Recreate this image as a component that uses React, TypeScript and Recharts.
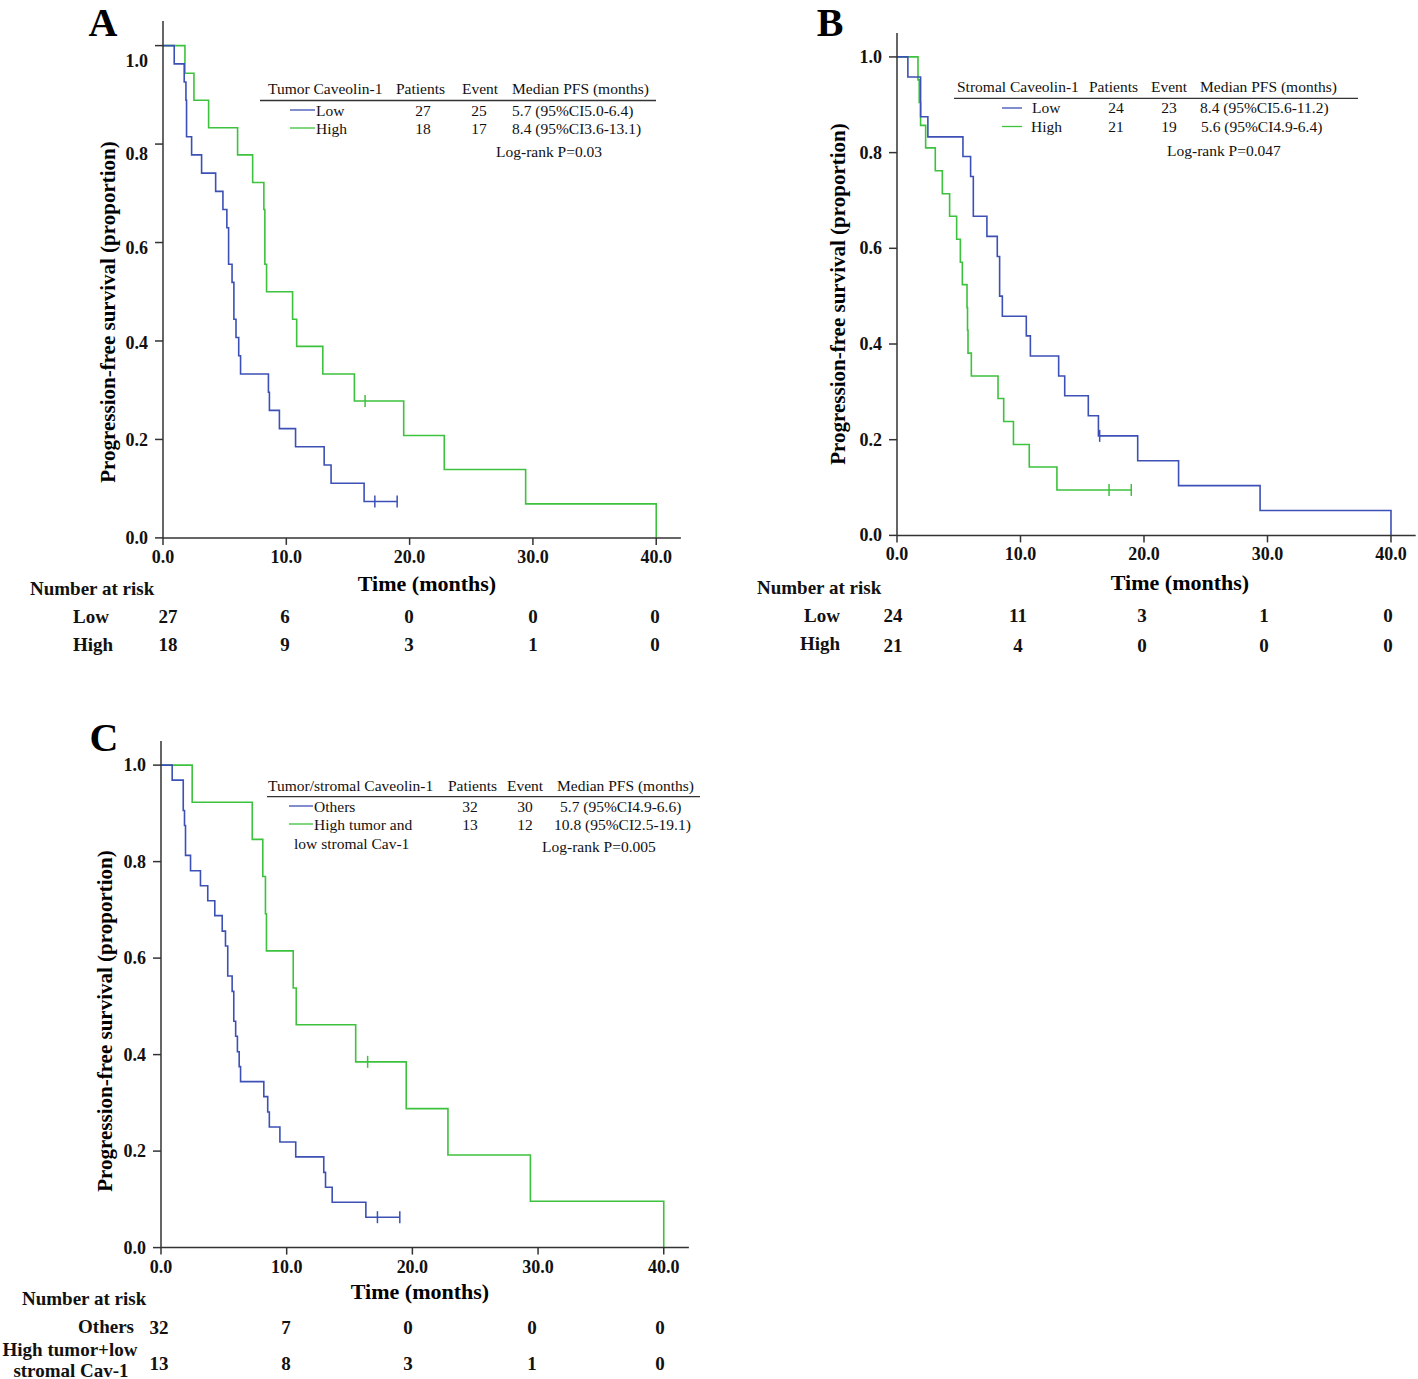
import React from "react"
import { LineChart, Line, XAxis, YAxis } from "recharts"

// survival steps (time in months, proportion)
const aLowTimes = [0, 0.91, 1.72, 1.86, 1.91, 2.32, 3.13, 4.27, 4.86, 5.18, 5.32, 5.6, 5.75, 5.92, 6.14, 6.29, 8.55, 8.63, 9.44, 10.75, 13.07, 13.63, 16.31]
const aLowSurv = [1, 0.963, 0.926, 0.889, 0.815, 0.778, 0.741, 0.704, 0.667, 0.63, 0.556, 0.519, 0.444, 0.407, 0.37, 0.333, 0.296, 0.259, 0.222, 0.185, 0.148, 0.111, 0.074]
const aLowCensor = [17.18, 18.99]

const aHighTimes = [0, 1.78, 2.51, 3.7, 6.05, 7.27, 8.18, 8.26, 8.4, 10.51, 10.84, 12.96, 15.52, 19.52, 22.81, 29.41, 40]
const aHighSurv = [1, 0.944, 0.889, 0.833, 0.778, 0.722, 0.667, 0.556, 0.5, 0.444, 0.389, 0.333, 0.278, 0.208, 0.139, 0.069, 0]
const aHighCensor = [16.39]

const bLowTimes = [0, 0.88, 1.91, 2.5, 5.34, 5.96, 6.18, 7.28, 8.12, 8.31, 8.53, 10.47, 10.8, 13.09, 13.58, 15.49, 16.31, 19.49, 22.8, 29.4, 40]
const bLowSurv = [1, 0.958, 0.875, 0.833, 0.792, 0.75, 0.667, 0.625, 0.583, 0.5, 0.458, 0.417, 0.375, 0.333, 0.292, 0.25, 0.208, 0.156, 0.104, 0.052, 0]
const bLowCensor = [16.41]

const bHighTimes = [0, 1.7, 1.8, 1.91, 2.32, 3.1, 3.67, 4.26, 4.83, 5.13, 5.29, 5.67, 5.71, 5.75, 6.02, 8.18, 8.64, 9.43, 10.71, 12.95]
const bHighSurv = [1, 0.952, 0.905, 0.857, 0.81, 0.762, 0.714, 0.667, 0.619, 0.571, 0.524, 0.476, 0.429, 0.381, 0.333, 0.286, 0.238, 0.19, 0.143, 0.095]
const bHighCensor = [17.17, 18.97]

const cOthersTimes = [0, 0.89, 1.77, 1.87, 1.95, 2.35, 3.14, 3.72, 4.28, 4.87, 5.13, 5.31, 5.66, 5.79, 5.94, 6.08, 6.22, 6.33, 8.18, 8.49, 8.62, 9.46, 10.72, 12.95, 13.09, 13.62, 16.3]
const cOthersSurv = [1, 0.969, 0.906, 0.875, 0.813, 0.781, 0.75, 0.719, 0.688, 0.656, 0.625, 0.563, 0.531, 0.469, 0.438, 0.406, 0.375, 0.344, 0.313, 0.281, 0.25, 0.219, 0.188, 0.156, 0.125, 0.094, 0.063]
const cOthersCensor = [17.22, 19.0]

const cHtlsTimes = [0, 2.48, 7.26, 8.1, 8.31, 8.39, 10.52, 10.76, 15.49, 19.51, 22.83, 29.39, 40]
const cHtlsSurv = [1, 0.923, 0.846, 0.769, 0.692, 0.615, 0.538, 0.462, 0.385, 0.288, 0.192, 0.096, 0]
const cHtlsCensor = [16.44]

const xTicks = [0, 10, 20, 30, 40]
const yTicks = [0, 0.2, 0.4, 0.6, 0.8, 1.0]

// number at risk at 0, 10, 20, 30, 40 months
const aRiskLow = [27, 6, 0, 0, 0]
const aRiskHigh = [18, 9, 3, 1, 0]
const bRiskLow = [24, 11, 3, 1, 0]
const bRiskHigh = [21, 4, 0, 0, 0]
const cRiskOthers = [32, 7, 0, 0, 0]
const cRiskHtls = [13, 8, 3, 1, 0]

const BLUE = "#3c50b6"
const GREEN = "#3cc23c"
const AXIS = "#333"
const SERIF = "'Liberation Serif', 'Times New Roman', serif"

type Pt = { t: number; s: number; c?: boolean }

// merge step points with censor marks (censor sits on the current step)
function kmPoints(times: number[], surv: number[], censor: number[]): Pt[] {
  const pts: Pt[] = times.map((t, i) => ({ t, s: surv[i] }))
  censor.forEach((c) => {
    let s = surv[0]
    times.forEach((t, i) => {
      if (t <= c) s = surv[i]
    })
    pts.push({ t: c, s, c: true })
  })
  return pts.sort((p, q) => p.t - q.t)
}

type Rect = { left: number; top: number; width: number; height: number }

function Panel({ rect, series, yShift }: {
  rect: Rect
  series: { pts: Pt[]; color: string }[]
  yShift?: (v: number) => number
}) {
  const W = rect.width + 80
  const H = rect.height + 50
  const censorDot = (color: string) => (props: any) => {
    const { cx, cy, payload, index } = props
    if (!payload || !payload.c) return <g key={"n" + index} />
    return <line key={"c" + index} x1={cx} x2={cx} y1={cy - 6} y2={cy + 6} stroke={color} strokeWidth={1.5} />
  }
  return (
    <div style={{ position: "absolute", left: rect.left - 70, top: rect.top - 10, width: W, height: H }}>
      <LineChart width={W} height={H} margin={{ top: 10, right: 10, bottom: 0, left: 20 }}>
        <XAxis
          dataKey="t"
          type="number"
          domain={[0, 42]}
          ticks={xTicks}
          interval={0}
          height={40}
          tickSize={7}
          tickMargin={2}
          stroke={AXIS}
          strokeWidth={1.5}
          tick={(p: any) => (
            <text x={p.x} y={p.y + 10} textAnchor="middle" dominantBaseline="central"
              fontFamily={SERIF} fontWeight="bold" fontSize={18} fill="#111">
              {Number(p.payload.value).toFixed(1)}
            </text>
          )}
        />
        <YAxis
          type="number"
          domain={[0, 1.05]}
          ticks={yTicks}
          interval={0}
          width={50}
          tickSize={8}
          tickMargin={7}
          stroke={AXIS}
          strokeWidth={1.5}
          tick={(p: any) => (
            <text x={p.x} y={p.y + (yShift ? yShift(p.payload.value) : 0)} textAnchor="end" dominantBaseline="central"
              fontFamily={SERIF} fontWeight="bold" fontSize={18} fill="#111">
              {Number(p.payload.value).toFixed(1)}
            </text>
          )}
        />
        {series.map((sr, i) => (
          <Line
            key={i}
            data={sr.pts}
            dataKey="s"
            type="stepAfter"
            stroke={sr.color}
            strokeWidth={1.6}
            dot={censorDot(sr.color)}
            activeDot={false}
            isAnimationActive={false}
          />
        ))}
      </LineChart>
    </div>
  )
}

const T = (props: any) => (
  <text fontFamily={SERIF} fontSize={15.5} fill="#111" dominantBaseline="central" {...props} />
)
const B = (props: any) => (
  <text fontFamily={SERIF} fontSize={19} fontWeight="bold" fill="#111" dominantBaseline="central" {...props} />
)

function RiskRow({ xs, y, values }: { xs: number[]; y: number; values: number[] }) {
  return (
    <>
      {values.map((v, i) => (
        <B key={i} x={xs[i]} y={y} textAnchor="middle">{v}</B>
      ))}
    </>
  )
}

export default function App() {
  const aX = [168, 285, 409, 533, 655]
  const bX = [893, 1018, 1142, 1264, 1388]
  const cX = [159, 286, 408, 532, 660]
  return (
    <div style={{ position: "absolute", left: 0, top: 0, width: 1418, height: 1379, overflow: "hidden", background: "#fff" }}>
      <Panel
        rect={{ left: 163.1, top: 21.1, width: 517.9, height: 516.9 }}
        yShift={(v) => 15 * v * v}
        series={[
          { pts: kmPoints(aHighTimes, aHighSurv, aHighCensor), color: GREEN },
          { pts: kmPoints(aLowTimes, aLowSurv, aLowCensor), color: BLUE },
        ]}
      />
      <Panel
        rect={{ left: 897.4, top: 33.4, width: 518.7, height: 502.4 }}
        series={[
          { pts: kmPoints(bHighTimes, bHighSurv, bHighCensor), color: GREEN },
          { pts: kmPoints(bLowTimes, bLowSurv, bLowCensor), color: BLUE },
        ]}
      />
      <Panel
        rect={{ left: 160.5, top: 740.6, width: 527.9, height: 506.6 }}
        series={[
          { pts: kmPoints(cHtlsTimes, cHtlsSurv, cHtlsCensor), color: GREEN },
          { pts: kmPoints(cOthersTimes, cOthersSurv, cOthersCensor), color: BLUE },
        ]}
      />

      <svg width={1418} height={1379} style={{ position: "absolute", left: 0, top: 0, pointerEvents: "none" }}>
        {/* panel letters */}
        <text x={103} y={22} textAnchor="middle" dominantBaseline="central" fontFamily={SERIF} fontWeight="bold" fontSize={40}>A</text>
        <text x={830} y={22} textAnchor="middle" dominantBaseline="central" fontFamily={SERIF} fontWeight="bold" fontSize={40}>B</text>
        <text x={104} y={737} textAnchor="middle" dominantBaseline="central" fontFamily={SERIF} fontWeight="bold" fontSize={40}>C</text>

        {/* axis titles */}
        <text x={427} y={583} textAnchor="middle" dominantBaseline="central" fontFamily={SERIF} fontWeight="bold" fontSize={22}>Time (months)</text>
        <text x={1180} y={582} textAnchor="middle" dominantBaseline="central" fontFamily={SERIF} fontWeight="bold" fontSize={22}>Time (months)</text>
        <text x={420} y={1291} textAnchor="middle" dominantBaseline="central" fontFamily={SERIF} fontWeight="bold" fontSize={22}>Time (months)</text>
        <text transform="translate(108,312) rotate(-90)" textAnchor="middle" dominantBaseline="central" fontFamily={SERIF} fontWeight="bold" fontSize={21}>Progression-free survival (proportion)</text>
        <text transform="translate(838,294) rotate(-90)" textAnchor="middle" dominantBaseline="central" fontFamily={SERIF} fontWeight="bold" fontSize={21}>Progression-free survival (proportion)</text>
        <text transform="translate(105,1021) rotate(-90)" textAnchor="middle" dominantBaseline="central" fontFamily={SERIF} fontWeight="bold" fontSize={21}>Progression-free survival (proportion)</text>

        {/* legend A */}
        <T x={268} y={88}>Tumor Caveolin-1</T>
        <T x={396} y={88}>Patients</T>
        <T x={462} y={88}>Event</T>
        <T x={512} y={88}>Median PFS (months)</T>
        <line x1={260} x2={656} y1={100.5} y2={100.5} stroke={AXIS} strokeWidth={1.3} />
        <line x1={290} x2={315} y1={110} y2={110} stroke={BLUE} strokeWidth={1.3} />
        <T x={316} y={110}>Low</T>
        <T x={423} y={110} textAnchor="middle">27</T>
        <T x={479} y={110} textAnchor="middle">25</T>
        <T x={512} y={110}>5.7 (95%CI5.0-6.4)</T>
        <line x1={290} x2={315} y1={128} y2={128} stroke={GREEN} strokeWidth={1.3} />
        <T x={316} y={128}>High</T>
        <T x={423} y={128} textAnchor="middle">18</T>
        <T x={479} y={128} textAnchor="middle">17</T>
        <T x={512} y={128}>8.4 (95%CI3.6-13.1)</T>
        <T x={496} y={151}>Log-rank P=0.03</T>

        {/* legend B */}
        <T x={957} y={86}>Stromal Caveolin-1</T>
        <T x={1089} y={86}>Patients</T>
        <T x={1151} y={86}>Event</T>
        <T x={1200} y={86}>Median PFS (months)</T>
        <line x1={954} x2={1358} y1={98.3} y2={98.3} stroke={AXIS} strokeWidth={1.3} />
        <line x1={1002} x2={1022} y1={108} y2={108} stroke={BLUE} strokeWidth={1.3} />
        <T x={1032} y={107}>Low</T>
        <T x={1116} y={107} textAnchor="middle">24</T>
        <T x={1169} y={107} textAnchor="middle">23</T>
        <T x={1200} y={107}>8.4 (95%CI5.6-11.2)</T>
        <line x1={1002} x2={1022} y1={126.5} y2={126.5} stroke={GREEN} strokeWidth={1.3} />
        <T x={1031} y={126}>High</T>
        <T x={1116} y={126} textAnchor="middle">21</T>
        <T x={1169} y={126} textAnchor="middle">19</T>
        <T x={1201} y={126}>5.6 (95%CI4.9-6.4)</T>
        <T x={1167} y={150}>Log-rank P=0.047</T>

        {/* legend C */}
        <T x={268} y={785}>Tumor/stromal Caveolin-1</T>
        <T x={448} y={785}>Patients</T>
        <T x={507} y={785}>Event</T>
        <T x={557} y={785}>Median PFS (months)</T>
        <line x1={267} x2={700} y1={796.7} y2={796.7} stroke={AXIS} strokeWidth={1.3} />
        <line x1={289} x2={313} y1={806} y2={806} stroke={BLUE} strokeWidth={1.3} />
        <T x={314} y={806}>Others</T>
        <T x={470} y={806} textAnchor="middle">32</T>
        <T x={525} y={806} textAnchor="middle">30</T>
        <T x={560} y={806}>5.7 (95%CI4.9-6.6)</T>
        <line x1={289} x2={313} y1={824} y2={824} stroke={GREEN} strokeWidth={1.3} />
        <T x={314} y={824}>High tumor and</T>
        <T x={470} y={824} textAnchor="middle">13</T>
        <T x={525} y={824} textAnchor="middle">12</T>
        <T x={554} y={824}>10.8 (95%CI2.5-19.1)</T>
        <T x={294} y={843}>low stromal Cav-1</T>
        <T x={542} y={846}>Log-rank P=0.005</T>

        {/* number at risk A */}
        <B x={30} y={588}>Number at risk</B>
        <B x={91} y={616} textAnchor="middle">Low</B>
        <B x={93} y={644} textAnchor="middle">High</B>
        <RiskRow xs={aX} y={616} values={aRiskLow} />
        <RiskRow xs={aX} y={644} values={aRiskHigh} />

        {/* number at risk B */}
        <B x={757} y={587}>Number at risk</B>
        <B x={822} y={615} textAnchor="middle">Low</B>
        <B x={820} y={643} textAnchor="middle">High</B>
        <RiskRow xs={bX} y={615} values={bRiskLow} />
        <RiskRow xs={bX} y={645} values={bRiskHigh} />

        {/* number at risk C */}
        <B x={22} y={1298}>Number at risk</B>
        <B x={134} y={1326} textAnchor="end">Others</B>
        <B x={70} y={1349} textAnchor="middle">High tumor+low</B>
        <B x={71} y={1370} textAnchor="middle">stromal Cav-1</B>
        <RiskRow xs={cX} y={1327} values={cRiskOthers} />
        <RiskRow xs={cX} y={1363} values={cRiskHtls} />
      </svg>
    </div>
  )
}
